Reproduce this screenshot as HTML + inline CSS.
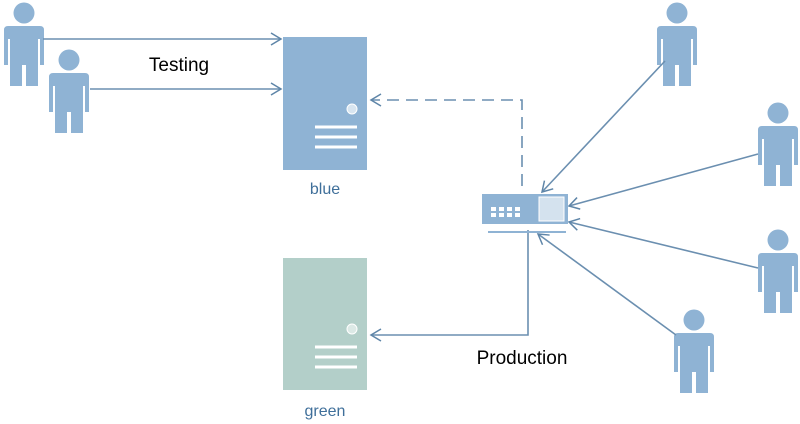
<!DOCTYPE html>
<html><head><style>body{margin:0;background:#fff}svg{display:block}</style></head><body>
<svg width="800" height="424" viewBox="0 0 800 424" xmlns="http://www.w3.org/2000/svg">
<defs>
<g id="p" fill="#8fb3d4">
<circle cx="20" cy="10" r="10.5"/>
<path d="M4 23 H36 Q40 23 40 27 V62 H36 V36 H34 V83 H22 V62 H18 V83 H6 V36 H4 V62 H0 V27 Q0 23 4 23 Z"/>
</g>
<marker id="a" markerWidth="14" markerHeight="14" refX="11" refY="7" orient="auto" markerUnits="userSpaceOnUse"><path d="M1 1 L11 7 L1 13" fill="none" stroke="#5e85a8" stroke-width="1.5"/></marker>
</defs>
<use href="#p" x="4" y="3"/>
<use href="#p" x="49" y="50"/>
<use href="#p" x="657" y="3"/>
<use href="#p" x="758" y="103"/>
<use href="#p" x="758" y="230"/>
<use href="#p" x="674" y="310"/>
<g stroke="#6b8fb0" stroke-width="1.6" fill="none">
<line x1="43" y1="39" x2="281" y2="39" marker-end="url(#a)"/>
<line x1="90" y1="89" x2="281" y2="89" marker-end="url(#a)"/>
<polyline points="522,186 522,100 371,100" stroke-dasharray="12,7" marker-end="url(#a)"/>
<polyline points="528,230 528,335 371,335" marker-end="url(#a)"/>
<line x1="665" y1="61" x2="542" y2="192" marker-end="url(#a)"/>
<line x1="758" y1="154" x2="569" y2="206" marker-end="url(#a)"/>
<line x1="758" y1="268" x2="569" y2="222" marker-end="url(#a)"/>
<line x1="676" y1="335" x2="538" y2="234" marker-end="url(#a)"/>
</g>
<rect x="283" y="37" width="84" height="133" fill="#8fb3d4"/>
<circle cx="352" cy="109" r="5" fill="#d8e5f0" stroke="#fff" stroke-width="1"/>
<g stroke="#fff" stroke-width="3"><line x1="315" y1="127" x2="357" y2="127"/><line x1="315" y1="137" x2="357" y2="137"/><line x1="315" y1="147" x2="357" y2="147"/></g>
<rect x="283" y="258" width="84" height="132" fill="#b3cfc9"/>
<circle cx="352" cy="329" r="5" fill="#dce9e6" stroke="#fff" stroke-width="1"/>
<g stroke="#fff" stroke-width="3"><line x1="315" y1="347" x2="357" y2="347"/><line x1="315" y1="357" x2="357" y2="357"/><line x1="315" y1="367" x2="357" y2="367"/></g>
<rect x="482" y="194" width="86" height="30" fill="#8fb3d4"/>
<rect x="539" y="197" width="25" height="24" fill="#d4e2ee" stroke="#fff"/>
<g fill="#fff"><rect x="491" y="207" width="5" height="4"/><rect x="499" y="207" width="5" height="4"/><rect x="507" y="207" width="5" height="4"/><rect x="515" y="207" width="5" height="4"/><rect x="491" y="213" width="5" height="4"/><rect x="499" y="213" width="5" height="4"/><rect x="507" y="213" width="5" height="4"/><rect x="515" y="213" width="5" height="4"/></g>
<line x1="488" y1="232" x2="566" y2="232" stroke="#8fb3d4" stroke-width="2"/>
<g font-family="Liberation Sans, sans-serif">
<text x="179" y="71" font-size="19" text-anchor="middle" fill="#000">Testing</text>
<text x="522" y="364" font-size="19" text-anchor="middle" fill="#000">Production</text>
<text x="325" y="194" font-size="16" text-anchor="middle" fill="#3f6f9a">blue</text>
<text x="325" y="416" font-size="16" text-anchor="middle" fill="#3f6f9a">green</text>
</g>
</svg>
</body></html>
